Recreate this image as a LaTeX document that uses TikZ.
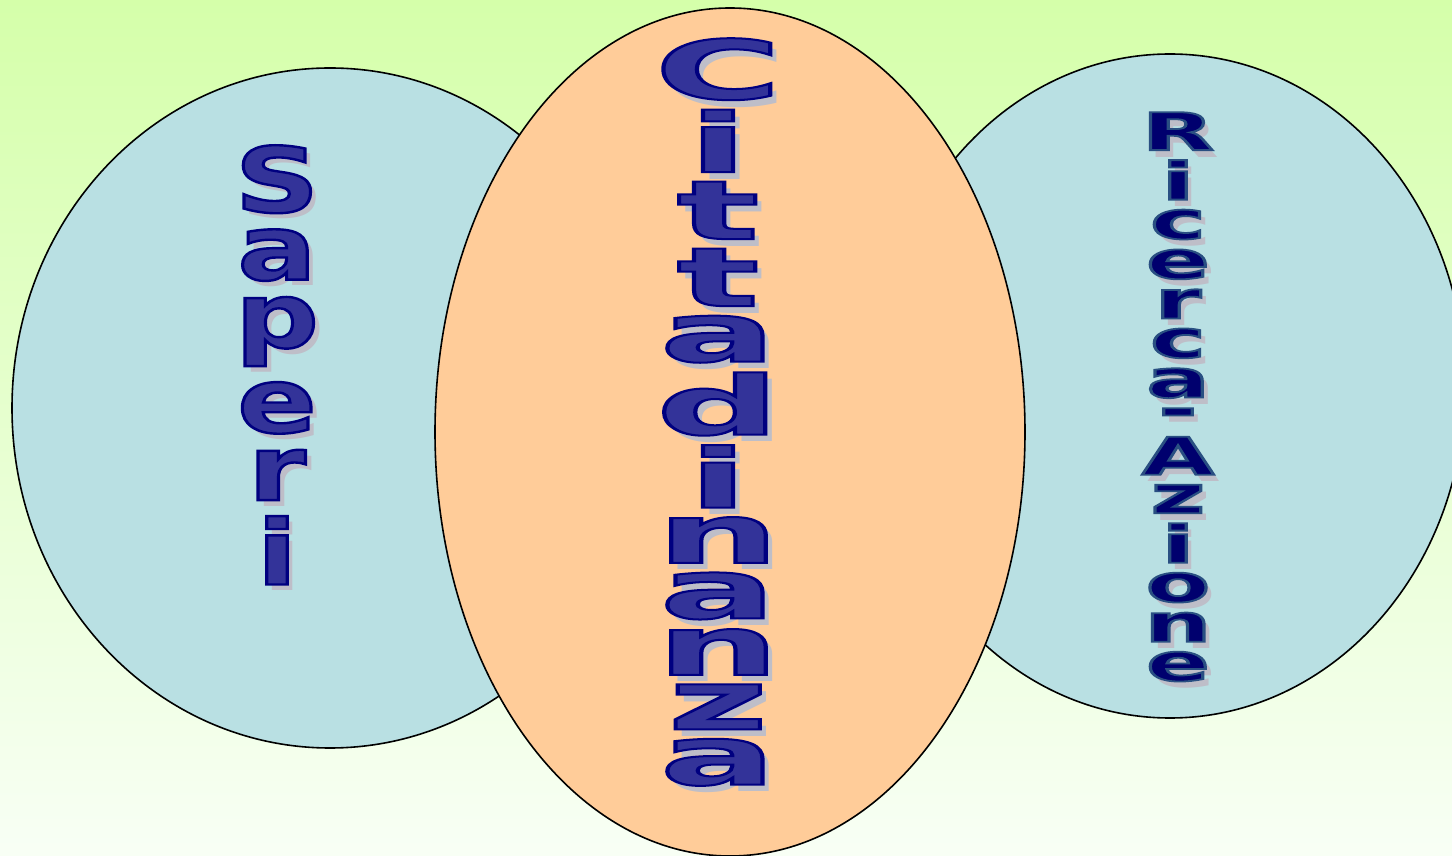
\documentclass[tikz,border=0pt]{standalone}
\usepackage{fontspec}
\setmainfont{DejaVu Sans}
\usepackage{graphicx}

\definecolor{bgtop}{RGB}{213,255,170}
\definecolor{bgbottom}{RGB}{248,255,245}
\definecolor{sky}{RGB}{185,224,227}
\definecolor{peach}{RGB}{255,204,153}
\definecolor{letterfill}{RGB}{51,51,153}
\definecolor{deepfill}{RGB}{0,0,110}
\definecolor{shadowgray}{RGB}{190,190,200}

% one letter per line, each line sits on the one above with a fixed gap
\newcommand\letters[2]{\vbox{\baselineskip=0pt\lineskiplimit=\maxdimen\lineskip=#1
  \halign{\hfil##\hfil\cr#2\crcr}}}
% filled and outlined glyphs: #1 line width, #2 stroke colour (rgb), #3 text
\newcommand\outlined[3]{\special{pdf:code q 2 Tr #1 w #2 RG}#3\special{pdf:code Q}}
\newcommand\saperiword{S\cr a\cr p\cr e\cr r\cr i}
\newcommand\cittaword{C\cr i\cr t\cr t\cr a\cr d\cr i\cr n\cr a\cr n\cr z\cr a}
\newcommand\ricercaword{R\cr i\cr c\cr e\cr r\cr c\cr a\cr -\cr A\cr z\cr i\cr o\cr n\cr e}

\begin{document}
\begin{tikzpicture}[x=1pt,y=1pt,
    bubble/.style={draw=black,line width=1.6pt},
    word/.style={inner sep=0pt,anchor=north}]
  \useasboundingbox (0,0) rectangle (1452,855);
  \clip (0,0) rectangle (1452,855);
  \shade[top color=bgtop,bottom color=bgbottom] (0,0) rectangle (1452,855);

  \coordinate (L) at (330,447);
  \coordinate (R) at (1170,469);
  \coordinate (M) at (730,423);

  \draw[bubble,fill=sky] (L) ellipse [x radius=318,y radius=340];
  \draw[bubble,fill=sky] (R) ellipse [x radius=295,y radius=332];
  \draw[bubble,fill=peach] (M) ellipse [x radius=295,y radius=424];

  % Saperi
  \node[word,font=\fontsize{90}{90}\selectfont\bfseries,text=shadowgray] (saperi-shadow) at (283,704)
    {\scalebox{1.3}[1]{\letters{16pt}{\saperiword}}};
  \node[word,font=\fontsize{90}{90}\selectfont\bfseries,text=letterfill] (saperi) at (277,710)
    {\scalebox{1.3}[1]{\outlined{2.4}{0 0 0.5}{\letters{16pt}{\saperiword}}}};

  % Cittadinanza
  \node[word,font=\fontsize{82}{82}\selectfont\bfseries,text=shadowgray] (citta-shadow) at (725,810)
    {\scalebox{2.1}[1]{\letters{9.5pt}{\cittaword}}};
  \node[word,font=\fontsize{82}{82}\selectfont\bfseries,text=letterfill] (citta) at (718,817)
    {\scalebox{2.1}[1]{\outlined{2}{0 0 0.5}{\letters{9.5pt}{\cittaword}}}};

  % Ricerca-Azione
  \node[word,font=\fontsize{52}{52}\selectfont\bfseries,text=shadowgray] (ricerca-shadow) at (1184,736)
    {\scalebox{1.8}[1]{\letters{10pt}{\ricercaword}}};
  \node[word,font=\fontsize{52}{52}\selectfont\bfseries,text=deepfill] (ricerca) at (1178,743)
    {\scalebox{1.8}[1]{\outlined{1.8}{0.16 0.31 0.51}{\letters{10pt}{\ricercaword}}}};
\end{tikzpicture}
\end{document}
